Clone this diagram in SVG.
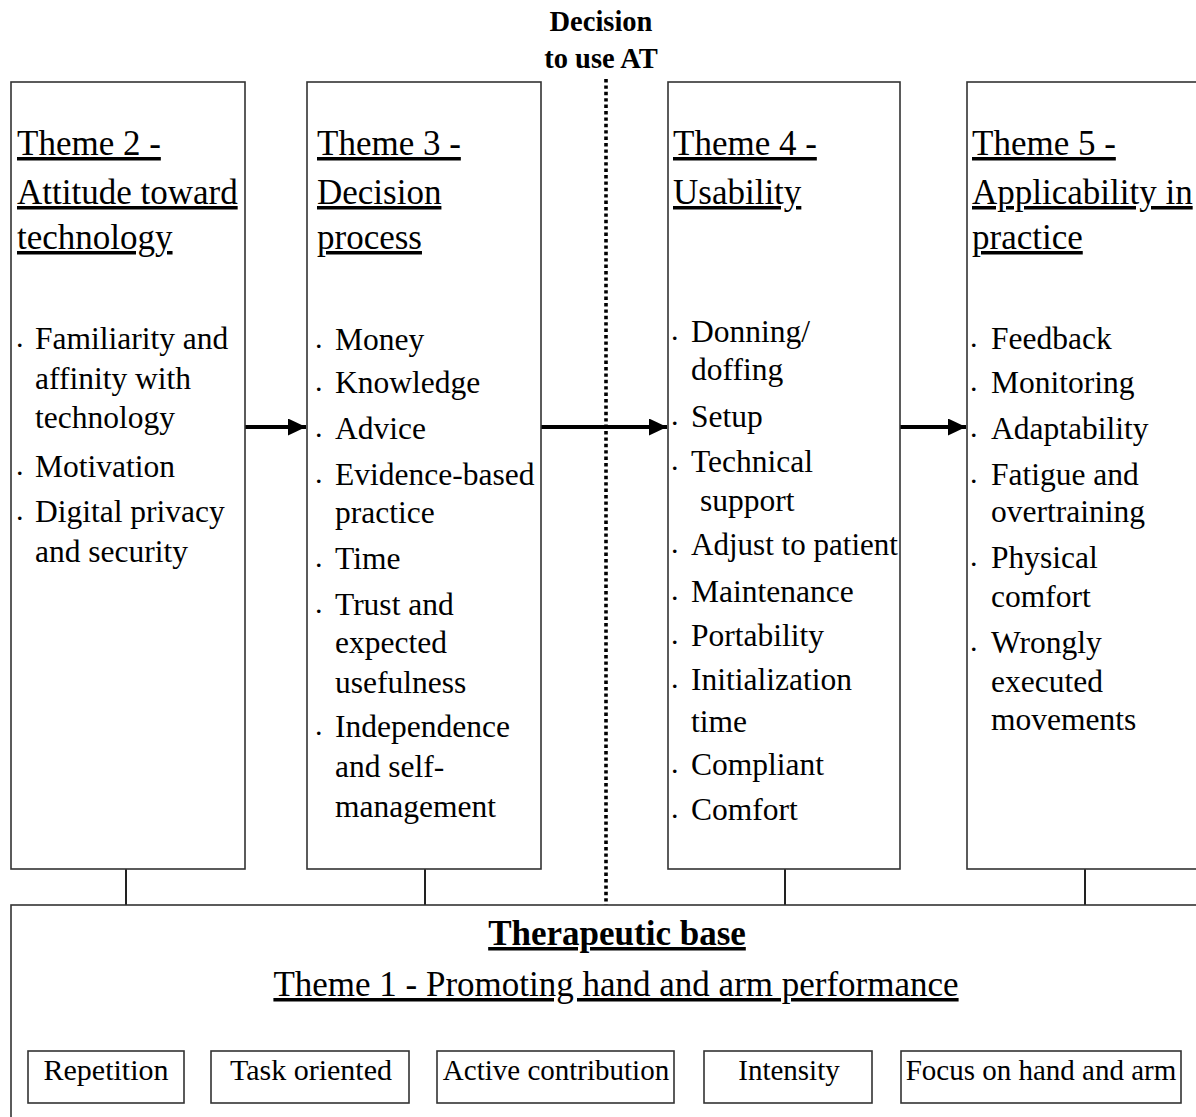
<svg xmlns="http://www.w3.org/2000/svg" width="1196" height="1117" viewBox="0 0 1196 1117">
<defs>
<style>
.box{fill:#fff;stroke:#333;stroke-width:1.6}
.t{font-family:"Liberation Serif","Times New Roman",serif;fill:#000}
.title{font-size:35px;text-decoration:underline}
.item{font-size:31.5px}
.dot{font-size:30px}
.small{font-size:29px}
.lbl{font-size:30px}
.bold{font-weight:bold}
.conn{stroke:#222;stroke-width:2;fill:none}
.arrow{stroke:#000;stroke-width:4.2;fill:none}
</style>
<marker id="ah" markerWidth="18" markerHeight="17" refX="18" refY="8.5" orient="auto" markerUnits="userSpaceOnUse">
<path d="M0,0 L18,8.5 L0,17 Z" fill="#000"/>
</marker>
</defs>
<rect width="1196" height="1117" fill="#fff"/>

<g id="decision-label">
<text class="t bold" x="601" y="31" font-size="28.5" text-anchor="middle">Decision</text>
<text class="t bold" x="601" y="68" font-size="28.5" text-anchor="middle">to use AT</text>
</g>

<g id="connectors">
<line x1="126" y1="869" x2="126" y2="905" class="conn"/>
<line x1="425" y1="869" x2="425" y2="905" class="conn"/>
<line x1="785" y1="869" x2="785" y2="905" class="conn"/>
<line x1="1085" y1="869" x2="1085" y2="905" class="conn"/>
<line x1="606" y1="79" x2="606" y2="905" stroke="#000" stroke-width="3.6" stroke-dasharray="3.4 3"/>
<line x1="245" y1="427" x2="306" y2="427" class="arrow" marker-end="url(#ah)"/>
<line x1="541" y1="427" x2="667" y2="427" class="arrow" marker-end="url(#ah)"/>
<line x1="900" y1="427" x2="966" y2="427" class="arrow" marker-end="url(#ah)"/>
</g>

<g id="theme2">
<rect class="box" x="11" y="82" width="234" height="787"/>
<text class="t title" x="17" y="155">Theme 2 -</text>
<text class="t title" x="17" y="204">Attitude toward</text>
<text class="t title" x="17" y="249">technology</text>
<text class="t dot" x="16" y="347">.</text>
<text class="t dot" x="16" y="475">.</text>
<text class="t dot" x="16" y="520">.</text>
<text class="t item" x="35" y="349">Familiarity and</text>
<text class="t item" x="35" y="389">affinity with</text>
<text class="t item" x="35" y="428">technology</text>
<text class="t item" x="35" y="477">Motivation</text>
<text class="t item" x="35" y="522">Digital privacy</text>
<text class="t item" x="35" y="562">and security</text>
</g>

<g id="theme3">
<rect class="box" x="307" y="82" width="234" height="787"/>
<text class="t title" x="317" y="155">Theme 3 -</text>
<text class="t title" x="317" y="204">Decision</text>
<text class="t title" x="317" y="249">process</text>
<text class="t dot" x="315" y="348">.</text>
<text class="t dot" x="315" y="391">.</text>
<text class="t dot" x="315" y="437">.</text>
<text class="t dot" x="315" y="483">.</text>
<text class="t dot" x="315" y="567">.</text>
<text class="t dot" x="315" y="613">.</text>
<text class="t dot" x="315" y="735">.</text>
<text class="t item" x="335" y="350">Money</text>
<text class="t item" x="335" y="393">Knowledge</text>
<text class="t item" x="335" y="439">Advice</text>
<text class="t item" x="335" y="485">Evidence-based</text>
<text class="t item" x="335" y="523">practice</text>
<text class="t item" x="335" y="569">Time</text>
<text class="t item" x="335" y="615">Trust and</text>
<text class="t item" x="335" y="653">expected</text>
<text class="t item" x="335" y="693">usefulness</text>
<text class="t item" x="335" y="737">Independence</text>
<text class="t item" x="335" y="777">and self-</text>
<text class="t item" x="335" y="817">management</text>
</g>

<g id="theme4">
<rect class="box" x="668" y="82" width="232" height="787"/>
<text class="t title" x="673" y="155">Theme 4 -</text>
<text class="t title" x="673" y="204">Usability</text>
<text class="t dot" x="671" y="340">.</text>
<text class="t dot" x="671" y="425">.</text>
<text class="t dot" x="671" y="470">.</text>
<text class="t dot" x="671" y="553">.</text>
<text class="t dot" x="671" y="600">.</text>
<text class="t dot" x="671" y="644">.</text>
<text class="t dot" x="671" y="688">.</text>
<text class="t dot" x="671" y="773">.</text>
<text class="t dot" x="671" y="818">.</text>
<text class="t item" x="691" y="342">Donning/</text>
<text class="t item" x="691" y="380">doffing</text>
<text class="t item" x="691" y="427">Setup</text>
<text class="t item" x="691" y="472">Technical</text>
<text class="t item" x="700" y="511">support</text>
<text class="t item" x="691" y="555" textLength="207" lengthAdjust="spacingAndGlyphs">Adjust to patient</text>
<text class="t item" x="691" y="602">Maintenance</text>
<text class="t item" x="691" y="646">Portability</text>
<text class="t item" x="691" y="690">Initialization</text>
<text class="t item" x="691" y="732">time</text>
<text class="t item" x="691" y="775">Compliant</text>
<text class="t item" x="691" y="820">Comfort</text>
</g>

<g id="theme5">
<rect class="box" x="967" y="82" width="240" height="787"/>
<text class="t title" x="972" y="155">Theme 5 -</text>
<text class="t title" x="972" y="204">Applicability in</text>
<text class="t title" x="972" y="249">practice</text>
<text class="t dot" x="970" y="347">.</text>
<text class="t dot" x="970" y="391">.</text>
<text class="t dot" x="970" y="437">.</text>
<text class="t dot" x="970" y="483">.</text>
<text class="t dot" x="970" y="566">.</text>
<text class="t dot" x="970" y="651">.</text>
<text class="t item" x="991" y="349">Feedback</text>
<text class="t item" x="991" y="393">Monitoring</text>
<text class="t item" x="991" y="439">Adaptability</text>
<text class="t item" x="991" y="485">Fatigue and</text>
<text class="t item" x="991" y="522">overtraining</text>
<text class="t item" x="991" y="568">Physical</text>
<text class="t item" x="991" y="607">comfort</text>
<text class="t item" x="991" y="653">Wrongly</text>
<text class="t item" x="991" y="692">executed</text>
<text class="t item" x="991" y="730">movements</text>
</g>

<g id="theme1">
<rect class="box" x="11" y="905" width="1200" height="230"/>
<text class="t bold" x="617" y="945" font-size="35" text-anchor="middle" text-decoration="underline">Therapeutic base</text>
<text class="t" x="616" y="996" font-size="35" text-anchor="middle" text-decoration="underline">Theme 1 - Promoting hand and arm performance</text>
</g>

<g id="repetition">
<rect class="box" x="28" y="1051" width="156" height="52"/>
<text class="t lbl" x="106" y="1080" text-anchor="middle">Repetition</text>
</g>
<g id="task-oriented">
<rect class="box" x="211" y="1051" width="198" height="52"/>
<text class="t lbl" x="311" y="1080" text-anchor="middle">Task oriented</text>
</g>
<g id="active-contribution">
<rect class="box" x="437" y="1051" width="237" height="52"/>
<text class="t small" x="556" y="1080" text-anchor="middle">Active contribution</text>
</g>
<g id="intensity">
<rect class="box" x="704" y="1051" width="168" height="52"/>
<text class="t small" x="789" y="1080" text-anchor="middle">Intensity</text>
</g>
<g id="focus">
<rect class="box" x="901" y="1051" width="280" height="52"/>
<text class="t small" x="1041" y="1080" text-anchor="middle">Focus on hand and arm</text>
</g>
</svg>
